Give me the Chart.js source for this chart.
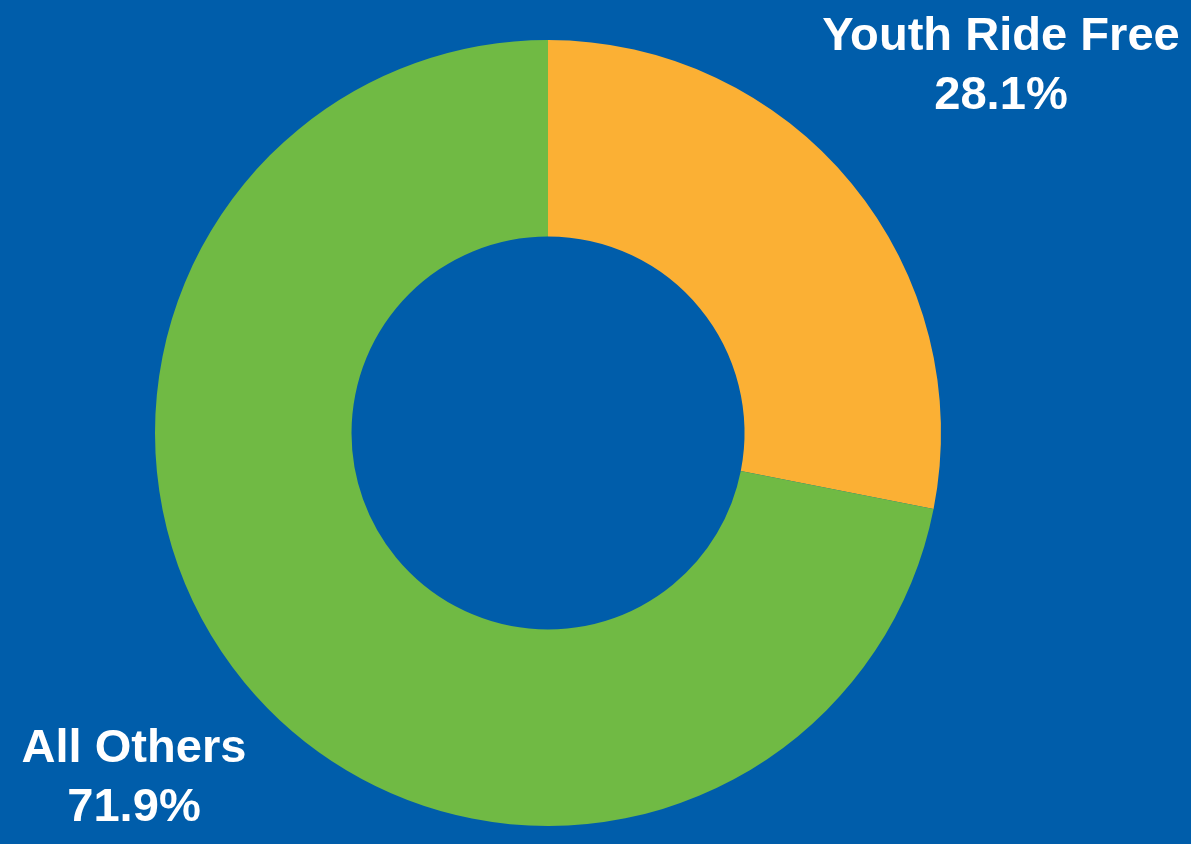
<!DOCTYPE html>
<html>
<head>
<meta charset="utf-8">
<script src="https://cdn.jsdelivr.net/npm/chart.js@4"></script>
<style>
  html, body { margin: 0; padding: 0; background: #005DAA; }
  #wrap { width: 1191px; height: 844px; }
</style>
</head>
<body>
<div id="wrap"><canvas id="myChart" width="1191" height="844"></canvas></div>
<script>
const labels = ['Youth Ride Free', 'All Others']
const values = [28.1, 71.9]
const colors = ['#FBB034', '#70BA44']

// label text drawn on the canvas, next to each slice
const labelSpots = [
  { x: 1001, y: 50 },
  { x: 134, y: 762 }
]

const sliceLabels = {
  id: 'sliceLabels',
  afterDraw(chart) {
    const ctx = chart.ctx
    ctx.save()
    ctx.fillStyle = '#ffffff'
    ctx.textAlign = 'center'
    ctx.textBaseline = 'alphabetic'
    // size the font so the longest label is about 358px wide
    ctx.font = 'bold 50px "Liberation Sans"'
    let size = 50 * 358 / ctx.measureText(labels[0]).width
    ctx.font = 'bold ' + size.toFixed(1) + 'px "Liberation Sans"'
    labels.forEach((name, i) => {
      const p = labelSpots[i]
      ctx.fillText(name, p.x, p.y)
      ctx.fillText(values[i].toFixed(1) + '%', p.x, p.y + 59)
    })
    ctx.restore()
  }
}

new Chart(document.getElementById('myChart'), {
  type: 'doughnut',
  data: {
    labels: labels,
    datasets: [{
      data: values,
      backgroundColor: colors,
      borderWidth: 0
    }]
  },
  options: {
    responsive: false,
    animation: false,
    cutout: '50%',
    layout: { padding: { left: 155, right: 250, top: 40, bottom: 18 } },
    plugins: {
      legend: { display: false },
      tooltip: { enabled: false }
    }
  },
  plugins: [sliceLabels]
})
</script>
</body>
</html>
